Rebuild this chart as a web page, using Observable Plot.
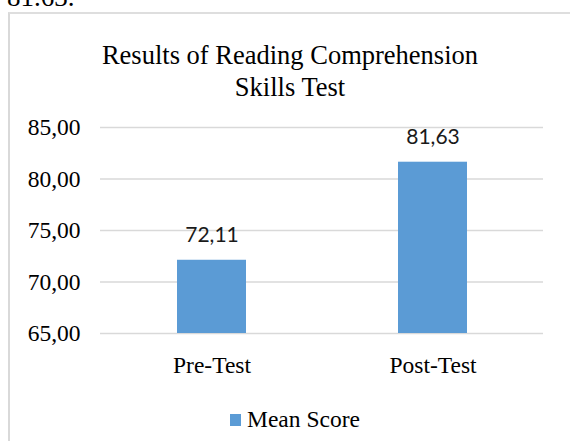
<!DOCTYPE html>
<html>
<head>
<meta charset="utf-8">
<script src="https://cdn.jsdelivr.net/npm/d3@7"></script>
<script src="https://cdn.jsdelivr.net/npm/@observablehq/plot@0.6"></script>
<style>
  html, body { margin: 0; padding: 0; background: #fff; width: 570px; height: 441px; overflow: hidden; position: relative; }
  .serif { font-family: "Liberation Serif", "Times New Roman", serif; color: #000; }
  #prev { position: absolute; left: 7px; top: -16px; font-size: 27px; line-height: 27px; white-space: nowrap; }
  #box { position: absolute; left: 8px; top: 12px; width: 600px; height: 500px; border-left: 2px solid #d9d9d9; border-top: 2px solid #dedede; }
  #title { position: absolute; left: 9px; width: 562px; top: 40px; text-align: center; font-size: 26.5px; line-height: 31.5px; }
  #chart { position: absolute; left: 0; top: 100px; }
  #chart svg text { font-family: "Liberation Serif", "Times New Roman", serif; }
  #chart svg g.value-labels text { font-family: Lato, "Open Sans", sans-serif; }
  #legend { position: absolute; left: 230px; top: 408px; font-size: 23.5px; line-height: 23.5px; white-space: nowrap; }
  #legend .sw { display: inline-block; position: absolute; left: 0; top: 6px; width: 11px; height: 12px; }
  #legend .lbl { position: absolute; left: 17px; top: 0; }
</style>
</head>
<body>
<div id="prev" class="serif">81.63.</div>
<div id="box"></div>
<div id="title" class="serif"></div>
<div id="chart"></div>
<div id="legend" class="serif"></div>
<script>
const titleLines = ["Results of Reading Comprehension", "Skills Test"];
const categories = ["Pre-Test", "Post-Test"];
const meanScores = [72.11, 81.63];
const seriesName = "Mean Score";
const yDomain = [65, 85];
const yTicks = [65, 70, 75, 80, 85];
const barColor = "#5B9BD5";
const gridColor = "#D9D9D9";

const fmt = v => v.toFixed(2).replace(".", ",");

document.getElementById("title").innerHTML = titleLines.join("<br>");
const leg = document.getElementById("legend");
leg.innerHTML = `<span class="sw" style="background:${barColor}"></span><span class="lbl">${seriesName}</span>`;

const data = categories.map((c, i) => ({category: c, value: meanScores[i]}));

const plot = Plot.plot({
  width: 570,
  height: 280,
  marginLeft: 100,
  marginRight: 27,
  marginTop: 27,
  marginBottom: 47,
  style: {background: "transparent", overflow: "visible", fontFamily: "'Liberation Serif', serif"},
  x: {domain: categories, paddingInner: 0.69, paddingOuter: 0.345, label: null},
  y: {domain: yDomain, label: null},
  marks: [
    Plot.ruleY(yTicks, {stroke: gridColor, strokeWidth: 1.5}),
    Plot.barY(data, {x: "category", y1: yDomain[0], y2: "value", fill: barColor}),
    Plot.text(data, {x: "category", y: "value", text: d => fmt(d.value), dy: -25,
      fontSize: 21, fill: "#1a1a1a", className: "value-labels"}),
    Plot.axisY({ticks: yTicks, tickFormat: fmt, tickSize: 0, tickPadding: 20,
      fontSize: 23.5, fill: "#000", label: null}),
    Plot.axisX({tickSize: 0, tickPadding: 23, fontSize: 23.5, fill: "#000", label: null})
  ]
});
document.getElementById("chart").appendChild(plot);
</script>
</body>
</html>
